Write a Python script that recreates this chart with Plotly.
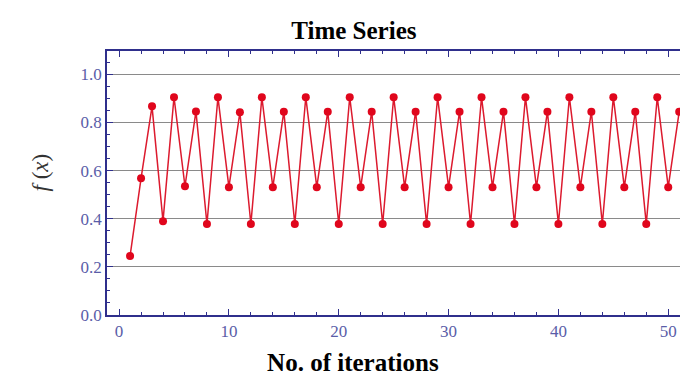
import plotly.graph_objects as go

iterations = list(range(1, 52))
fx_values = [
    0.245, 0.568, 0.867, 0.390, 0.905, 0.535, 0.846, 0.378,
    0.905, 0.531, 0.842, 0.378, 0.905, 0.531, 0.845, 0.378,
    0.905, 0.531, 0.845, 0.378, 0.905, 0.531, 0.845, 0.378,
    0.905, 0.531, 0.845, 0.378, 0.905, 0.531, 0.845, 0.378,
    0.905, 0.531, 0.845, 0.378, 0.905, 0.531, 0.845, 0.378,
    0.905, 0.531, 0.845, 0.378, 0.905, 0.531, 0.845, 0.378,
    0.905, 0.531, 0.845,
]
x_ticks = [0, 10, 20, 30, 40, 50]
y_ticks = [0.0, 0.2, 0.4, 0.6, 0.8, 1.0]

frame_color = "#2f2f8c"
label_color = "#5a5da8"

fig = go.Figure()
fig.add_trace(go.Scatter(
    x=iterations, y=fx_values, mode="lines+markers",
    line=dict(color="#dc1a2e", width=1.5),
    marker=dict(color="#e0061c", size=8),
    showlegend=False,
))

fig.update_layout(
    width=688, height=376,
    margin=dict(l=99, r=6, t=43, b=69),
    paper_bgcolor="white", plot_bgcolor="white",
    font=dict(family="Liberation Serif", color=label_color, size=16),
)
fig.update_xaxes(
    range=[-1.1, 51.8], tickvals=x_ticks,
    showgrid=False, zeroline=False,
    showline=True, linecolor=frame_color, linewidth=1.5, mirror="ticks",
    ticks="inside", ticklen=6, tickcolor=frame_color, tickwidth=1,
    minor=dict(dtick=2, tick0=0, ticks="inside", ticklen=3, tickcolor=frame_color, showgrid=False),
    tickfont=dict(family="Liberation Serif", size=17, color=label_color),
)
fig.update_yaxes(
    range=[0, 1.097], tickvals=y_ticks, tickformat=".1f",
    showgrid=True, gridcolor="#8a8a8a", gridwidth=1, zeroline=False,
    showline=True, linecolor=frame_color, linewidth=1.5, mirror="ticks",
    ticks="inside", ticklen=6, tickcolor=frame_color, tickwidth=1,
    minor=dict(dtick=0.05, tick0=0, ticks="inside", ticklen=3, tickcolor=frame_color, showgrid=False),
    tickfont=dict(family="Liberation Serif", size=17, color=label_color),
)

fig.add_annotation(text="<b>Time Series</b>", xref="paper", yref="paper",
                   x=-99/583, y=1, yshift=21, xanchor="left", yanchor="middle",
                   showarrow=False, font=dict(family="Liberation Serif", size=25, color="black"),
                   width=688, align="center")
fig.add_annotation(text="<b>No. of iterations</b>", xref="paper", yref="paper",
                   x=-99/583, y=0, yshift=-62, xanchor="left", yanchor="bottom",
                   showarrow=False, font=dict(family="Liberation Serif", size=25, color="black"),
                   width=688, align="center", borderpad=0)
fig.add_annotation(text="<i>f</i> (<i>x</i>)", xref="paper", yref="paper",
                   x=0, y=0.54, xshift=-67, xanchor="center", yanchor="middle", textangle=-90,
                   showarrow=False, font=dict(family="Liberation Serif", size=23, color="#333333"))

fig.write_html("out.html")
